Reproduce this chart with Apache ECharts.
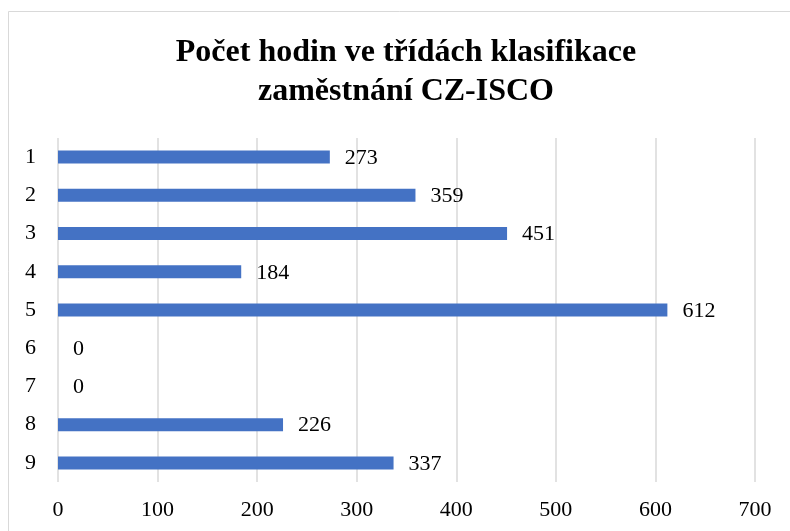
<!DOCTYPE html>
<html>
<head>
<meta charset="utf-8">
<script src="https://cdn.jsdelivr.net/npm/echarts@6/dist/echarts.min.js"></script>
<style>html,body{margin:0;padding:0;background:#fff}#c{width:790px;height:531px}</style>
</head>
<body>
<div id="c"></div>
<script>
const titleText = 'Počet hodin ve třídách klasifikace\nzaměstnání CZ-ISCO';
const categories = ['1','2','3','4','5','6','7','8','9'];
const values = [273, 359, 451, 184, 612, 0, 0, 226, 337];
const xMin = 0, xMax = 700, xStep = 100;

const font = '"Liberation Serif", "Times New Roman", serif';
const chart = echarts.init(document.getElementById('c'));
chart.setOption({
  backgroundColor: '#fff',
  animation: false,
  graphic: [{
    type: 'rect', shape: {x: 8.5, y: 11.5, width: 800, height: 540},
    style: {fill: 'none', stroke: '#d9d9d9', lineWidth: 1}, silent: true, z: -1
  }],
  title: {
    text: titleText, left: 401, textAlign: 'center', top: 28,
    textStyle: {fontFamily: font, fontWeight: 'bold', fontSize: 32, color: '#000', lineHeight: 39}
  },
  grid: {left: 58, right: 35, top: 138, bottom: 49, containLabel: false},
  xAxis: {
    type: 'value', min: xMin, max: xMax, interval: xStep,
    axisLine: {show: false}, axisTick: {show: false},
    splitLine: {show: true, lineStyle: {color: '#d9d9d9', width: 1.5}},
    axisLabel: {fontFamily: font, fontSize: 22, color: '#000', margin: 17}
  },
  yAxis: {
    type: 'category', data: categories, inverse: true,
    axisLine: {show: false}, axisTick: {show: false},
    axisLabel: {fontFamily: font, fontSize: 22, color: '#000', margin: 22}
  },
  series: [{
    type: 'bar', data: values, barWidth: 13,
    itemStyle: {color: '#4472C4'},
    label: {show: true, position: 'right', distance: 15, fontFamily: font, fontSize: 22, color: '#000', offset: [0, 1]}
  }]
});
</script>
</body>
</html>
